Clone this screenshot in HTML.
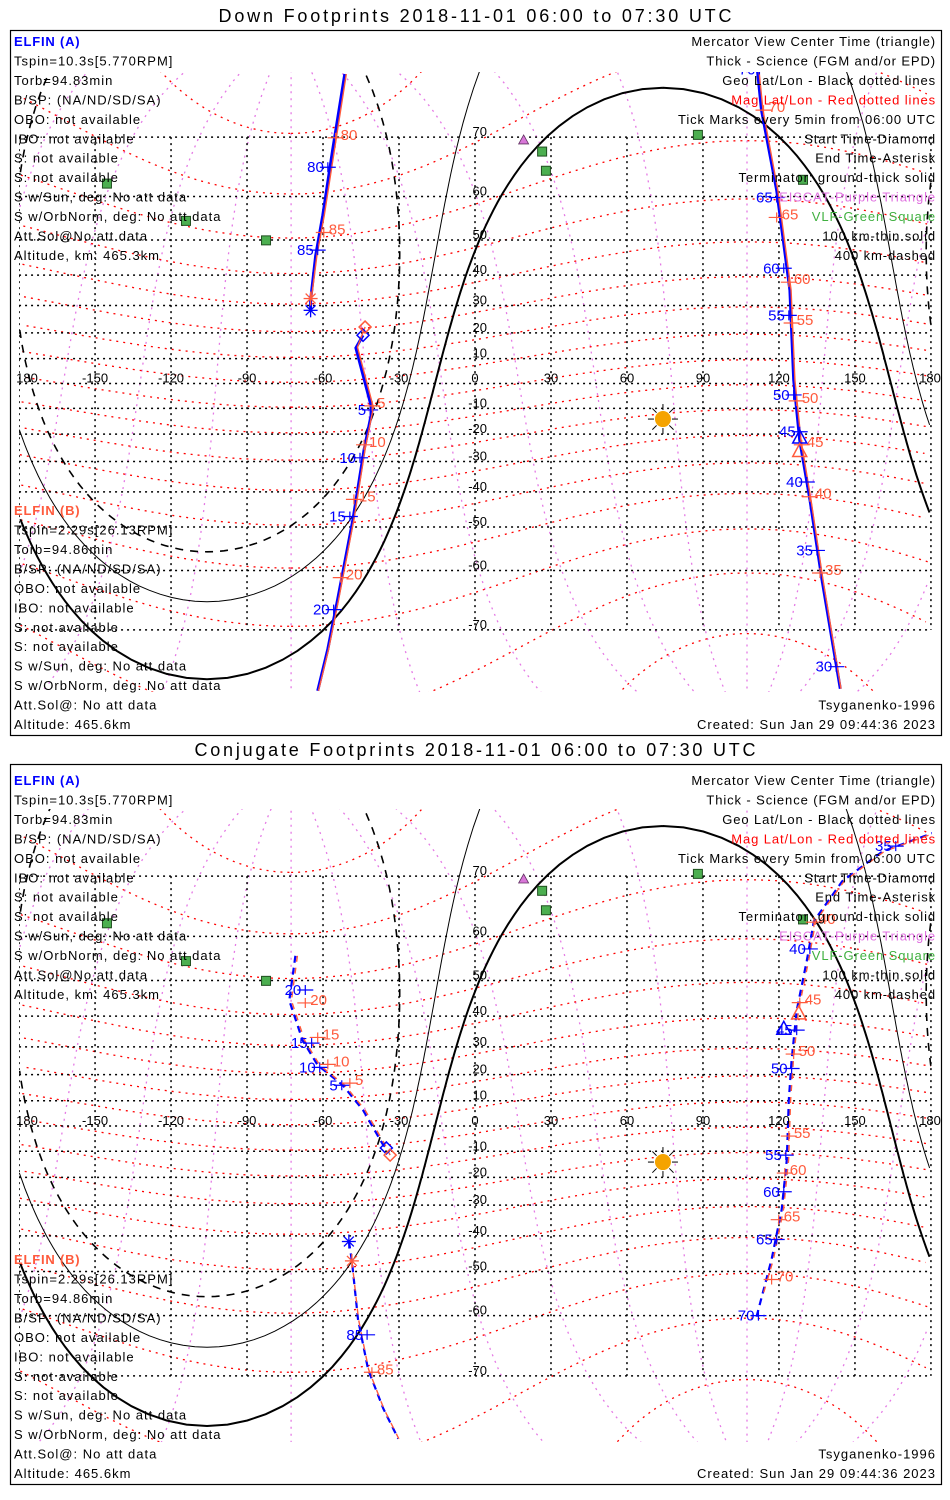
<!DOCTYPE html>
<html><head><meta charset="utf-8">
<style>
html,body{margin:0;padding:0;background:#fff;width:950px;height:1500px;overflow:hidden;}
svg{display:block;overflow:hidden;font-family:"Liberation Sans","DejaVu Sans",sans-serif;}
</style></head>
<body>
<svg id="chart" xmlns="http://www.w3.org/2000/svg" width="950" height="1500" viewBox="0 0 950 1500">
<rect x="0" y="0" width="950" height="1500" fill="#fff"/>
</svg>
<script>
// ---------- DATA ----------
const gridLats = [-70,-60,-50,-40,-30,-20,-10,0,10,20,30,40,50,60,70];
const gridLons = [-180,-150,-120,-90,-60,-30,0,30,60,90,120,150,180];
const lonTickLabels = ["180","-150","-120","-90","-60","-30","0","30","60","90","120","150","180"];
const latTickLabels = ["-70","-60","-50","-40","-30","-20","-10","","10","20","30","40","50","60","70"];
const subsolar = [74.2, -14.2];          // lon, lat of sun
const terminatorAltKm = [0, 100, 400];   // ground, 100 km, 400 km
const terminatorStyle = ["thick","thin","dashed"];
const magPole = [80.5, -72.6];           // lat, lon of dipole north pole
const magLats = [-80,-70,-60,-50,-40,-30,-20,-10,0,10,20,30,40,50,60,70,80];
const magLons = [0,30,60,90,120,150,180,210,240,270,300,330];
const vlfLon = [-145.3,-114.1,-82.5,26.5,28.0,88.0,129.5];
const vlfLat = [62.5,54.7,49.9,67.9,64.8,70.3,63.2];
const eiscatLon = [15.8,19.2];
const eiscatLat = [78.2,69.6];

// Down footprints
const downA1 = [[-51.4,77.1],[-56.2,68.1],[-60.1,56.0],[-62.9,45.8],[-64.9,31.8],[-64.9,28.3]];
const downB1 = [[-50.8,77.1],[-55.5,68.1],[-59.5,56.0],[-62.4,45.8],[-64.6,32.4]];
const downA2 = [[-44.2,19.1],[-47.0,14.2],[-40.6,-10.6],[-43.8,-25.8],[-48.2,-48.1],[-54.2,-65.3],[-58.1,-72.5],[-62.1,-76.9]];
const downB2 = [[-43.4,22.2],[-46.4,14.5],[-40.1,-9.6],[-43.3,-25.2],[-47.7,-47.6],[-53.8,-65.3],[-57.8,-72.5],[-61.8,-76.9]];
const downA3 = [[111.1,78.3],[113.1,73.4],[119.1,61.2],[124.3,35.2],[125.8,1.4],[128.2,-22.2],[132.2,-42.3],[137.0,-61.8],[144.2,-76.7]];
const downB3 = [[111.7,78.3],[113.7,73.4],[119.6,61.2],[124.8,35.2],[126.3,1.4],[128.7,-22.2],[132.6,-42.3],[137.4,-61.8],[144.5,-76.7]];
const downTicksA = [["80",-58.1,65.4],["85",-62.1,47.3],["5",-41.4,-10.6],["10",-45.4,-28.7],["15",-49.4,-47.2],["20",-55.8,-67.0],
  ["70",112.3,77.5],["65",119.1,59.8],["60",121.9,42.1],["55",123.9,26.5],["50",125.8,-4.6],["45",128.2,-19.1],["40",131.0,-36.9],["35",135.0,-55.7],["30",142.6,-74.5]];
const downTicksB = [["80",-55.0,69.9],["85",-59.7,51.9],["5",-40.6,-9.0],["10",-43.8,-24.0],["15",-47.8,-42.3],["20",-53.0,-61.4],
  ["70",113.9,73.4],["65",119.1,55.5],["60",123.9,37.8],["55",125.0,23.7],["50",127.0,-7.0],["45",129.0,-24.0],["40",132.2,-41.5],["35",136.2,-60.5]];
const downStart = [[-44.2,19.1],[-43.4,22.2]];
const downEnd = [[-64.9,28.3],[-64.9,32.4]];
const downCenter = [[128.2,-21.1],[128.2,-26.1]];

// Conjugate footprints
const conjA1 = [[-70.9,55.9],[-73.3,44.6],[-68.1,32.3],[-62.1,23.5],[-52.2,16.0],[-44.2,6.3],[-36.2,-7.6],[-35.0,-8.7]];
const conjB1 = [[-70.1,55.9],[-72.5,44.6],[-67.3,32.3],[-61.3,23.5],[-51.4,16.0],[-43.4,6.3],[-35.4,-7.6],[-33.5,-11.5]];
const conjA2 = [[-49.8,-41.7],[-48.6,-47.2],[-46.2,-60.7],[-42.2,-69.1],[-36.2,-74.0],[-30.3,-77.0]];
const conjB2 = [[-48.6,-47.2],[-46.0,-60.7],[-42.0,-69.1],[-36.0,-74.0],[-30.1,-77.0]];
const conjA3 = [[182.8,75.3],[160.9,73.1],[145.0,69.3],[133.8,62.9],[131.0,54.8],[127.0,41.7],[125.0,25.3],[123.9,10.3],[123.1,-13.3],[121.1,-31.5],[117.1,-46.8],[111.1,-60.3]];
const conjB3 = [[183.5,75.3],[161.6,73.1],[145.7,69.3],[134.5,62.9],[131.7,54.8],[127.7,41.7],[125.7,25.3],[124.6,10.3],[123.8,-13.3],[121.8,-31.5],[117.8,-46.8],[113.5,-56.0]];
const conjTicksA = [["20",-67.0,47.5],["15",-64.5,31.3],["10",-61.3,22.7],["5",-52.6,16.0],["85",-42.6,-63.6],
  ["35",166.1,73.7],["40",132.2,57.4],["45",127.0,35.6],["50",125.0,22.3],["55",122.7,-11.5],["60",121.9,-25.3],["65",119.1,-41.1],["70",111.9,-60.0]];
const conjTicksB = [["20",-67.0,43.9],["15",-62.1,33.2],["10",-58.1,23.8],["5",-49.4,16.8],["85",-40.7,-69.5],
  ["40",133.8,62.7],["45",128.2,44.0],["50",125.8,27.5],["55",123.9,-4.0],["60",122.3,-18.4],["65",119.9,-34.9],["70",117.1,-52.0]];
const conjStart = [[-35.0,-8.7],[-33.5,-11.5]];
const conjEnd = [[-49.8,-41.7],[-48.6,-47.2]];
const conjCenter = [[121.9,36.2],[127.8,41.0]];

const leftTextA = ["Tspin=10.3s[5.770RPM]","Torb=94.83min","B/SP: (NA/ND/SD/SA)","OBO: not available","IBO: not available","S: not available","S: not available","S w/Sun, deg: No att data","S w/OrbNorm, deg: No att data","Att.Sol@No att data","Altitude, km: 465.3km"];
const leftTextB = ["Tspin=2.29s[26.13RPM]","Torb=94.86min","B/SP: (NA/ND/SD/SA)","OBO: not available","IBO: not available","S: not available","S: not available","S w/Sun, deg: No att data","S w/OrbNorm, deg: No att data","Att.Sol@: No att data","Altitude: 465.6km"];
const legendText = ["Mercator View Center Time (triangle)","Thick - Science (FGM and/or EPD)","Geo Lat/Lon - Black dotted lines","Mag Lat/Lon - Red dotted lines","Tick Marks every 5min from 06:00 UTC","Start Time-Diamond","End Time-Asterisk","Terminator: ground-thick solid","EISCAT-Purple Triangle","VLF-Green Square","100 km-thin solid","400 km-dashed"];
const legendColor = ["#000","#000","#000","#ff0000","#000","#000","#000","#000","#e070e0","#40b040","#000","#000"];

// ---------- RENDERING ----------
const NS = "http://www.w3.org/2000/svg";
const svg = document.getElementById("chart");
const D = Math.PI/180;
function mk(tag, attrs, parent){
  const e = document.createElementNS(NS, tag);
  for (const k in attrs) e.setAttribute(k, attrs[k]);
  parent.appendChild(e);
  return e;
}
function xOf(lon){ return 475 + lon*2.533; }
function yOf(P, lat){
  const l = Math.max(-80, Math.min(80, lat));
  return P.y0 - P.k*Math.log(Math.tan(Math.PI/4 + l*D/2));
}
function pathLL(P, pts){
  let d = "", prev = null;
  pts.forEach(p => {
    let lon = p[0];
    const brk = prev === null || Math.abs(lon - prev) > 180;
    d += (brk ? "M" : "L") + xOf(lon).toFixed(1) + "," + yOf(P, p[1]).toFixed(1) + " ";
    prev = lon;
  });
  return d;
}
function norm(lon){ while (lon > 180) lon -= 360; while (lon < -180) lon += 360; return lon; }
function magToGeo(mlat, mlon){
  const mx = Math.cos(mlat*D)*Math.cos(mlon*D), my = Math.cos(mlat*D)*Math.sin(mlon*D), mz = Math.sin(mlat*D);
  const a = (90 - magPole[0])*D, p = magPole[1]*D;
  const x1 = mx*Math.cos(a) + mz*Math.sin(a), y1 = my, z1 = -mx*Math.sin(a) + mz*Math.cos(a);
  const x = x1*Math.cos(p) - y1*Math.sin(p), y = x1*Math.sin(p) + y1*Math.cos(p);
  return [Math.atan2(y, x)/D, Math.asin(Math.max(-1, Math.min(1, z1)))/D];
}
function circlePts(cLat, cLon, rDeg){
  const pts = [];
  for (let b = 0; b <= 360; b += 2){
    const la1 = cLat*D, d = rDeg*D, br = b*D;
    const la2 = Math.asin(Math.sin(la1)*Math.cos(d) + Math.cos(la1)*Math.sin(d)*Math.cos(br));
    const lo2 = cLon*D + Math.atan2(Math.sin(br)*Math.sin(d)*Math.cos(la1), Math.cos(d) - Math.sin(la1)*Math.sin(la2));
    pts.push([norm(lo2/D), la2/D]);
  }
  return pts;
}

function drawPanel(P){
  const g = mk("g", {}, svg);
  
  

  const title = mk("text", {x:475, y:P.titleY+6, "text-anchor":"middle", "font-size":18, textLength:P.titleLen, lengthAdjust:"spacing"}, g);
  title.textContent = P.title;
  
  

  const box = mk("rect", {x:10.5, y:P.boxTop+0.5, width:931, height:P.boxBot-P.boxTop, fill:"none", stroke:"#000", "stroke-width":1.2}, g);
  
  

  const cp = mk("clipPath", {id:"clip"+P.id}, g);
  mk("rect", {x:19, y:P.clipTop, width:913, height:P.clipBot-P.clipTop}, cp);
  const map = mk("g", {"clip-path":"url(#clip"+P.id+")"}, g);
  
  

  magLons.forEach(ml => {
    const pts = [];
    for (let la = -88; la <= 88; la += 2) pts.push(magToGeo(la, ml));
    const pl = mk("path", {d:pathLL(P, pts), fill:"none", stroke:"#e57ae5", "stroke-width":1.3, "stroke-dasharray":"2,5"}, map);
    
    
  });
  magLats.forEach(ml => {
    const pts = [];
    for (let lo = 0; lo <= 360; lo += 3) pts.push(magToGeo(ml, lo));
    const pl = mk("path", {d:pathLL(P, pts), fill:"none", stroke:"#ff0000", "stroke-width":1.3, "stroke-dasharray":"2,5"}, map);
    
    
  });
  gridLats.forEach((la, i) => {
    const y = yOf(P, la);
    const ln = mk("line", {x1:xOf(-180), x2:xOf(180), y1:y, y2:y, stroke:"#000", "stroke-width":1.5, "stroke-dasharray":"2,4"}, map);
    
    
    if (latTickLabels[i]) {
      const t = mk("text", {x:487, y:y-1, "text-anchor":"end", "font-size":13}, map);
      t.textContent = latTickLabels[i];
      
      
    }
  });
  gridLons.forEach((lo, i) => {
    const x = xOf(lo);
    const ln = mk("line", {x1:x, x2:x, y1:yOf(P,70), y2:yOf(P,-70), stroke:"#000", "stroke-width":1.5, "stroke-dasharray":"2,4"}, map);
    
    
    const t = mk("text", {x:(lo===-180?27:(lo===180?930:x)), y:yOf(P,0)-1, "text-anchor":"middle", "font-size":13}, g);
    t.textContent = lonTickLabels[i];
    
    
  });
  const anti = [-subsolar[1], norm(subsolar[0] + 180)];
  terminatorAltKm.forEach((h, i) => {
    const dip = Math.acos(6371/(6371 + h))/D;
    const pts = circlePts(anti[0], anti[1], 90 - dip);
    const st = terminatorStyle[i];
    const pl = mk("path", {d:pathLL(P, pts), fill:"none", stroke:"#000",
      "stroke-width": st === "thick" ? 2 : 1, "stroke-dasharray": st === "dashed" ? "8,7" : "none"}, map);
    if (st === "dashed") pl.setAttribute("stroke-width", 1.6);
    
    
  });
  const sx = xOf(subsolar[0]), sy = yOf(P, subsolar[1]);
  for (let a = 0; a < 360; a += 45){
    const r = mk("line", {x1:sx+9*Math.cos(a*D), y1:sy+9*Math.sin(a*D), x2:sx+15*Math.cos(a*D), y2:sy+15*Math.sin(a*D), stroke:"#000", "stroke-width":1}, map);
    
    
  }
  const sun = mk("circle", {cx:sx, cy:sy, r:8, fill:"#f5a300"}, map);
  
  
  vlfLon.forEach((lo, i) => {
    const x = xOf(lo), y = yOf(P, vlfLat[i]);
    const s = mk("rect", {x:x-4.5, y:y-4.5, width:9, height:9, fill:"#4caf50", stroke:"#1f4f1f", "stroke-width":1}, map);
    
    
  });
  eiscatLon.forEach((lo, i) => {
    const x = xOf(lo), y = yOf(P, eiscatLat[i]);
    const t = mk("polygon", {points:`${x-5},${y+4} ${x+5},${y+4} ${x},${y-5}`, fill:"#d877d8", stroke:"#603060", "stroke-width":0.8}, map);
    
    
  });
  const dash = P.dashed ? "7,5" : "none";
  P.tracksA.forEach(tr => {
    const pl = mk("path", {d:pathLL(P, tr), fill:"none", stroke:"#0000ff", "stroke-width":P.dashed?2.2:3, "stroke-dasharray":dash}, map);
    
    
  });
  P.tracksB.forEach(tr => {
    const pl = mk("path", {d:pathLL(P, tr), fill:"none", stroke:"#ff5a3c", "stroke-width":1.4, "stroke-dasharray":P.dashed?"6,6":"none"}, map);
    
    
  });
  function ticks(list, col, side){
    list.forEach(t => {
      const x = xOf(t[1]), y = yOf(P, t[2]);
      const h = mk("line", {x1:x-8, x2:x+8, y1:y, y2:y, stroke:col, "stroke-width":1.2}, map);
      
      
      const v = mk("line", {x1:x, x2:x, y1:y-5, y2:y+5, stroke:col, "stroke-width":1.2}, map);
      
      
      const tx = mk("text", {x: side < 0 ? x-4 : x+5, y:y+2+(side<0?3:0), "text-anchor": side < 0 ? "end" : "start", "font-size":15, fill:col}, map);
      tx.textContent = t[0];
      
      
    });
  }
  ticks(P.ticksA, "#0000ff", -1);
  ticks(P.ticksB, "#ff5a3c", 1);
  [["#0000ff",0],["#ff5a3c",1]].forEach(c => {
    const col = c[0], i = c[1];
    let x = xOf(P.start[i][0]), y = yOf(P, P.start[i][1]);
    const dm = mk("polygon", {points:`${x},${y-6} ${x+6},${y} ${x},${y+6} ${x-6},${y}`, fill:"none", stroke:col, "stroke-width":1.5}, map);
    
    
    x = xOf(P.end[i][0]); y = yOf(P, P.end[i][1]);
    for (let a = 0; a < 180; a += 45){
      const s = mk("line", {x1:x-7*Math.cos(a*D), y1:y-7*Math.sin(a*D), x2:x+7*Math.cos(a*D), y2:y+7*Math.sin(a*D), stroke:col, "stroke-width":1.3}, map);
      
      
    }
    x = xOf(P.center[i][0]); y = yOf(P, P.center[i][1]);
    const tri = mk("polygon", {points:`${x-7},${y+6} ${x+7},${y+6} ${x},${y-7}`, fill:"none", stroke:col, "stroke-width":1.5}, map);
    
    
  });
  const pitch = 19.45;
  const ha = mk("text", {x:14, y:P.topText+5, "font-size":13, "font-weight":"bold", fill:"#0000ff", "letter-spacing":0.8}, g);
  ha.textContent = "ELFIN (A)";
  
  
  leftTextA.forEach((s, i) => {
    const t = mk("text", {x:14, y:P.topText+5+(i+1)*pitch, "font-size":13, "letter-spacing":1}, g);
    t.textContent = s;
    
    
  });
  const hb = mk("text", {x:14, y:P.botText+5-11*pitch, "font-size":13, "font-weight":"bold", fill:"#ff5a3c", "letter-spacing":0.8}, g);
  hb.textContent = "ELFIN (B)";
  
  
  leftTextB.forEach((s, i) => {
    const t = mk("text", {x:14, y:P.botText+5-(10-i)*pitch, "font-size":13, "letter-spacing":1}, g);
    t.textContent = s;
    
    
  });
  legendText.forEach((s, i) => {
    const t = mk("text", {x:936, y:P.topText+5+i*pitch, "font-size":13, "text-anchor":"end", fill:legendColor[i], "letter-spacing":0.9}, g);
    t.textContent = s;
    
    
  });
  const ts = mk("text", {x:936, y:P.botText+5-pitch, "font-size":13, "text-anchor":"end", "letter-spacing":1}, g);
  ts.textContent = "Tsyganenko-1996";
  
  
  const cr = mk("text", {x:936, y:P.botText+5, "font-size":13, "text-anchor":"end", "letter-spacing":1}, g);
  cr.textContent = "Created: Sun Jan 29 09:44:36 2023";
  
  
}

drawPanel({id:1, name:"down-footprints-panel", title:"Down Footprints 2018-11-01 06:00 to 07:30 UTC", titleY:16, titleLen:513,
  boxTop:30, boxBot:735, y0:383.5, k:142, clipTop:72, clipBot:692, dashed:false,
  tracksA:[downA1, downA2, downA3], tracksB:[downB1, downB2, downB3], ticksA:downTicksA, ticksB:downTicksB,
  start:downStart, end:downEnd, center:downCenter, topText:41, botText:724});
drawPanel({id:2, name:"conjugate-footprints-panel", title:"Conjugate Footprints 2018-11-01 06:00 to 07:30 UTC", titleY:750, titleLen:561,
  boxTop:764, boxBot:1484, y0:1126, k:144, clipTop:809, clipBot:1442, dashed:true,
  tracksA:[conjA1, conjA2, conjA3], tracksB:[conjB1, conjB2, conjB3], ticksA:conjTicksA, ticksB:conjTicksB,
  start:conjStart, end:conjEnd, center:conjCenter, topText:780, botText:1473});
</script>
</body></html>
